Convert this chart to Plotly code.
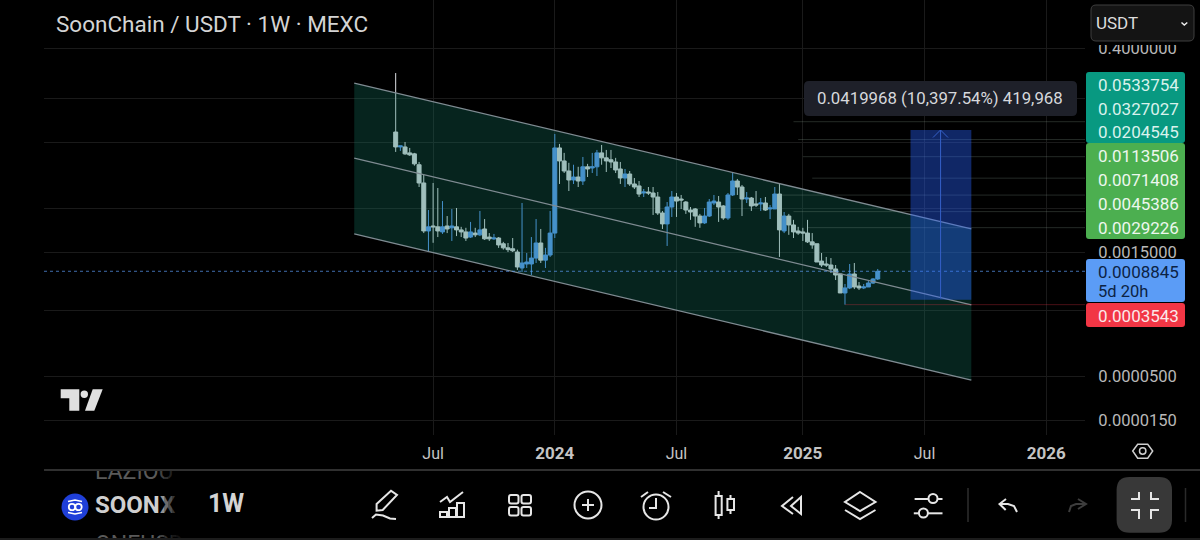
import math
import pandas as pd
import plotly.graph_objects as go

W, H = 1200, 540

# Weekly SOONX/USDT candles
first_week = "2023-05-08"
opens = [.0402,.0267,.0267,.0227,.0221,.0164,.00995,.00267,.00306,.00299,.00260,.00306,.00291,.00299,.00275,.00260,
         .00226,.00252,.00240,.00282,.00226,.00215,.00220,.00188,.00168,.00164,.00150,.000968,.00108,.00108,.00127,.00192,
         .00120,.00138,.00252,.0260,.0182,.01382,.01080,.01172,.01050,.0155,.01500,.0155,.0227,.0198,.0188,.0177,
         .01460,.01140,.01272,.00968,.00917,.00756,.00777,.00756,.00677,.00437,.00324,.00515,.00677,.00641,.00590,.00474,
         .00488,.00402,.00333,.00402,.00575,.00590,.00530,.00381,.00716,.01050,.00891,.00641,.00659,.00560,.00560,.00575,
         .00488,.00488,.00735,.00267,.00402,.00315,.00267,.00260,.00252,.00198,.00188,.00117,.00108,.00105,.000942,.000821,
         .000488,.000560,.000821,.000590,.000560,.000575,.000641,.000716]
highs = [.2025,.0275,.0306,.0260,.0227,.0177,.01238,.00474,.00995,.00867,.00606,.00402,.00488,.00501,.00299,.00291,
         .00342,.00291,.00462,.00370,.00252,.00246,.00226,.00198,.00192,.00220,.00160,.00575,.00146,.00226,.00370,.00282,
         .00168,.00462,.0381,.0290,.0227,.0173,.0164,.0155,.0203,.0168,.0227,.0246,.0282,.0246,.0246,.0198,
         .0177,.01460,.01382,.01140,.01050,.00843,.00891,.00891,.00777,.00462,.00590,.00798,.00756,.00716,.00606,.00515,
         .00501,.00426,.00501,.00641,.00716,.00696,.00543,.00756,.01308,.01110,.00942,.00777,.00677,.00798,.00659,.00677,
         .00543,.00891,.00968,.00449,.00426,.00362,.00299,.00291,.00362,.00252,.00188,.00146,.00131,.00127,.00105,.000821,
         .000624,.00108,.00111,.000659,.000624,.000677,.000735,.000942]
lows = [.0233,.0240,.0215,.0209,.0160,.00891,.00252,.00150,.00193,.00226,.00246,.00252,.00203,.00232,.00226,.00203,
        .00220,.00226,.00232,.00209,.00203,.00209,.00168,.00160,.00150,.00150,.000917,.000867,.000968,.000798,.00111,.00111,
        .000968,.00131,.00220,.00968,.01308,.00798,.00968,.00891,.00942,.01172,.01308,.01205,.0164,.01344,.01500,.01308,
        .00968,.00891,.00917,.00843,.00677,.00677,.00716,.00414,.00414,.00282,.00177,.00392,.00392,.00488,.00426,.00362,
        .00299,.00291,.00324,.00392,.00543,.00342,.00362,.00362,.00696,.00716,.00402,.00575,.00462,.00515,.00462,.00462,
        .00370,.00488,.00131,.00252,.00240,.00220,.00240,.00203,.00192,.00164,.00114,.000995,.000995,.000843,.000696,.000488,
        .0003543,.000543,.000543,.000530,.000543,.000575,.000624,.000696]
closes = [.0267,.0275,.0221,.0215,.0168,.00995,.00267,.00299,.00299,.00267,.00299,.00282,.00306,.00275,.00260,.00220,
          .00260,.00240,.00275,.00215,.00215,.00220,.00182,.00168,.00160,.00155,.000995,.00111,.00114,.00127,.00192,.00120,
          .00138,.00252,.0260,.0182,.01382,.01080,.01172,.01050,.0155,.01460,.0155,.0227,.0198,.0182,.0177,.01421,
          .01140,.01272,.00968,.00891,.00735,.00777,.00756,.00677,.00437,.00324,.00515,.00677,.00606,.00624,.00474,.00449,
          .00402,.00333,.00402,.00590,.00606,.00515,.00381,.00716,.01050,.00891,.00641,.00659,.00530,.00543,.00575,.00474,
          .00501,.00735,.00275,.00402,.00315,.00260,.00252,.00252,.00198,.00182,.00114,.00105,.00105,.000942,.000798,.000488,
          .000560,.000821,.000575,.000560,.000575,.000641,.000716,.0008845]

last_price = 0.0008845
price_low = 0.0003543

# Descending channel drawn over the history
channel_dates = ["2023-03-07", "2025-09-15"]
channel_upper = [0.154, 0.00282]
channel_middle = [0.0197, 0.000351]
channel_lower = [0.00246, 0.0000449]

# Long position projection
target_start, target_end, target_mid = "2025-06-16", "2025-09-15", "2025-07-31"
target_base = 0.000403919
target_gain = 0.0419968
target_label = "0.0419968 (10,397.54%) 419,968"

# Horizontal levels, each with the week its ray begins
level_values = [0.0533754, 0.0327027, 0.0204545, 0.0113506, 0.0071408, 0.0045386, 0.0029226]
level_starts = ["2024-12-23", "2024-12-30", "2025-01-06", "2025-01-20", "2024-12-02", "2024-12-23", "2025-01-13"]
low_ray_start = "2025-03-10"
countdown = "5d 20h"

# Axis ticks; the blank ones sit behind the scale tags and only keep their gridline
price_ticks = [1.5, 0.4, 0.1, 0.03, 0.005, 0.0015, 0.0003, 0.00005, 0.000015]
price_tick_text = ["", "0.4000000", "", "", "", "0.0015000", "", "0.0000500", "0.0000150"]
time_ticks = ["2023-07-03", "2024-01-01", "2024-07-01", "2025-01-06", "2025-07-07", "2026-01-05"]
time_tick_text = ["Jul", "<b><span style='font-size:17px'>2024</span></b>", "Jul",
                  "<b><span style='font-size:17px'>2025</span></b>", "Jul",
                  "<b><span style='font-size:17px'>2026</span></b>"]

UP = "#5b9cf6"
DOWN = "#dcdee2"
FONT = "Roboto"
X_RANGE = ["2021-11-28", "2026-03-04"]
Y_RANGE = [-5.0024, 0.176]

weeks = pd.date_range(first_week, periods=len(opens), freq="7D")


def fx(v):
    return v / W


def fy(v):
    return 1 - v / H


shapes = []
annotations = []


def poly(points, closed=False):
    body = " L".join(f"{fx(a):.5f} {fy(b):.5f}" for a, b in points)
    return "M" + body + (" Z" if closed else "")


def stroke(points, color="#e6e6e6", width=2, closed=False, fill=None):
    shapes.append(dict(type="path", xref="paper", yref="paper", layer="above",
                       path=poly(points, closed),
                       line=dict(color=color, width=width),
                       fillcolor=fill or "rgba(0,0,0,0)"))


def solid(points, color):
    shapes.append(dict(type="path", xref="paper", yref="paper", layer="above",
                       path=poly(points, True), line=dict(width=0), fillcolor=color))


def round_rect(x0, y0, x1, y1, r, fill=None, line=None, width=0):
    p = (f"M{fx(x0+r):.5f} {fy(y0):.5f} L{fx(x1-r):.5f} {fy(y0):.5f} Q{fx(x1):.5f} {fy(y0):.5f} {fx(x1):.5f} {fy(y0+r):.5f} "
         f"L{fx(x1):.5f} {fy(y1-r):.5f} Q{fx(x1):.5f} {fy(y1):.5f} {fx(x1-r):.5f} {fy(y1):.5f} "
         f"L{fx(x0+r):.5f} {fy(y1):.5f} Q{fx(x0):.5f} {fy(y1):.5f} {fx(x0):.5f} {fy(y1-r):.5f} "
         f"L{fx(x0):.5f} {fy(y0+r):.5f} Q{fx(x0):.5f} {fy(y0):.5f} {fx(x0+r):.5f} {fy(y0):.5f} Z")
    shapes.append(dict(type="path", xref="paper", yref="paper", layer="above", path=p,
                       fillcolor=fill or "rgba(0,0,0,0)",
                       line=dict(color=line or "rgba(0,0,0,0)", width=width)))


def circle(cx, cy, r, color="#e6e6e6", width=2, fill=None):
    shapes.append(dict(type="circle", xref="paper", yref="paper", layer="above",
                       x0=fx(cx - r), x1=fx(cx + r), y0=fy(cy + r), y1=fy(cy - r),
                       line=dict(color=color, width=width),
                       fillcolor=fill or "rgba(0,0,0,0)"))


def label(x, y, text, size, color, anchor="left"):
    annotations.append(dict(xref="paper", yref="paper", x=fx(x), y=fy(y), text=text, showarrow=False,
                            xanchor=anchor, yanchor="middle", align=anchor,
                            font=dict(family=FONT, size=size, color=color)))


fig = go.Figure()

# Channel band and its three rails
fig.add_trace(go.Scatter(
    x=channel_dates + channel_dates[::-1], y=channel_upper + channel_lower[::-1],
    mode="lines", fill="toself", fillcolor="rgba(20,120,100,0.3)", line=dict(width=0)))
for rail in (channel_upper, channel_middle, channel_lower):
    fig.add_trace(go.Scatter(x=channel_dates, y=rail, mode="lines",
                             line=dict(color="#7f8b92", width=1.3)))

# Level rays run out to the price scale
for value, start in zip(level_values, level_starts):
    fig.add_trace(go.Scatter(x=[start, X_RANGE[1]], y=[value, value], mode="lines",
                             line=dict(color="rgba(150,175,160,0.24)", width=1)))
fig.add_trace(go.Scatter(x=[low_ray_start, X_RANGE[1]], y=[price_low, price_low], mode="lines",
                         line=dict(color="rgba(242,54,69,0.3)", width=1)))

# Last price marker
fig.add_trace(go.Scatter(x=X_RANGE, y=[last_price, last_price], mode="lines",
                         line=dict(color="rgba(91,156,246,0.7)", width=1, dash="dot")))

# Projection block
target_top = target_base + target_gain
fig.add_trace(go.Scatter(
    x=[target_start, target_end, target_end, target_start, target_start],
    y=[target_base, target_base, target_top, target_top, target_base],
    mode="lines", fill="toself", fillcolor="rgba(41,98,255,0.4)", line=dict(width=0)))
annotations.append(dict(x=target_mid, y=math.log10(target_top), ax=target_mid, ay=math.log10(target_base),
                        xref="x", yref="y", axref="x", ayref="y", text="", showarrow=True,
                        arrowhead=0, arrowwidth=1, arrowcolor="#3560c8"))
stroke([(933, 137.5), (940.5, 130), (948, 137.5)], "#3560c8", 1)

fig.add_trace(go.Candlestick(
    x=weeks, open=opens, high=highs, low=lows, close=closes,
    increasing=dict(line=dict(color=UP, width=1), fillcolor=UP),
    decreasing=dict(line=dict(color=DOWN, width=1), fillcolor=DOWN),
    whiskerwidth=0, hoverinfo="skip"))

# Watchlist strip, clipped to its own little pane
fig.add_trace(go.Scatter(x=[95, 95, 95], y=[473, 507, 546], mode="text",
                         text=["LAZIOU", "<b>SOONX</b>", "ONEUSDT"], textposition="middle right",
                         textfont=dict(family=FONT, size=[23, 24, 23], color=["#5a5a5a", "#cfcfcf", "#5a5a5a"]),
                         xaxis="x2", yaxis="y2", cliponaxis=True))

# Scale tags
round_rect(1086, 72, 1185, 143, 3, fill="#089981")
round_rect(1086, 143, 1185, 239, 3, fill="#4caf50")
round_rect(1086, 259, 1185, 302, 3, fill=UP)
round_rect(1086, 303, 1185, 327, 3, fill="#f23645")
tag_rows = [85, 108.5, 132, 156, 180, 204, 228]
for i, (row, value) in enumerate(zip(tag_rows, level_values)):
    label(1095.5, row, f"{value:.7f}", 17, "#d9f2ec" if i < 3 else "#edf7ee")
label(1095.5, 271.5, f"{last_price:.7f}", 17, "#0c2344")
label(1095.5, 291, countdown, 16.5, "#0c2344")
label(1095.5, 315.5, f"{price_low:.7f}", 17, "#fbe9ea")

# Projection caption
round_rect(804, 81, 1077, 116, 5, fill="#1e2029")
label(940.5, 98.5, target_label, 16.8, "#d6d8dc", "center")

# Header
label(54, 24, "SoonChain / USDT · 1W · MEXC", 22.5, "#d4d4d4")
solid([(1086, 0), (1200, 0), (1200, 45), (1086, 45)], "#000000")
round_rect(1091, 5, 1194, 41, 5, fill="#141414", line="#3e3e3e", width=1)
label(1094, 23, "USDT", 17, "#dddddd")
stroke([(1181.5, 22.5), (1184.3, 25), (1187.3, 22.5)], "#eeeeee", 1.5)

# TradingView mark
solid([(60.7, 389.3), (79.3, 389.3), (79.3, 410.7), (69.3, 410.7), (69.3, 398.3), (60.7, 398.3)], "#e0e0e0")
circle(84.3, 394.3, 3.7, "#e0e0e0", 0, "#e0e0e0")
solid([(92.7, 389.3), (102.7, 389.3), (94.3, 410.7), (85, 410.7)], "#e0e0e0")

# Chart settings hexagon
stroke([(1132.7, 451), (1137.7, 444.3), (1147.7, 444.3), (1152.7, 451), (1147.7, 458.3), (1137.7, 458.3)],
       "#cfcfcf", 1.5, closed=True)
circle(1142.7, 451, 3.2, "#cfcfcf", 1.5)

# Toolbar rules
stroke([(44, 470), (1200, 470)], "#303030", 2)
stroke([(0, 539), (1200, 539)], "#262626", 1.5)

# Symbol coin
circle(75, 507, 13.5, "#1f3fd8", 0, "#1f3fd8")
circle(72, 507, 3.2, "#ffffff", 1.8)
circle(78.5, 507, 3.2, "#ffffff", 1.8)
stroke([(68, 501.5), (75, 500), (82, 501.5)], "#ffffff", 1.5)
stroke([(68, 512.5), (75, 514), (82, 512.5)], "#ffffff", 1.5)

# Soft right edge of the symbol column
for step in range(6):
    solid([(160 + step * 4, 471), (183, 471), (183, 538), (160 + step * 4, 538)], "rgba(0,0,0,0.28)")

label(206, 503, "<b>1W</b>", 25, "#d4d4d4")

# Pencil
stroke([(376.6, 504), (391, 490.7), (397, 495), (382.7, 510), (376.6, 510.7)], closed=True)
stroke([(372, 518), (376, 514.5), (383, 515.5), (390, 518.5), (396, 519)])
# Indicators
stroke([(440, 502), (447, 497), (450, 502), (463, 492)])
for x0, x1, y0 in [(440, 447, 512), (449, 456, 508), (457, 464, 503)]:
    stroke([(x0, y0), (x1, y0), (x1, 517), (x0, 517)], closed=True)
# Layout grid
for x0, y0 in [(509, 495), (521.5, 495), (509, 507), (521.5, 507)]:
    round_rect(x0, y0, x0 + 9.5, y0 + 8.5, 2, line="#e6e6e6", width=2)
# Add
circle(588, 505, 13.5)
stroke([(582, 505), (594, 505)])
stroke([(588, 499), (588, 511)])
# Alarm
circle(656, 507, 12.5)
stroke([(656, 498), (656, 508), (649, 508)])
stroke([(641, 497), (648, 492)])
stroke([(663, 492), (671, 497)])
# Candle type
stroke([(715.6, 496), (721.7, 496), (721.7, 515), (715.6, 515)], closed=True)
stroke([(718.6, 491), (718.6, 496)])
stroke([(718.6, 515), (718.6, 519)])
stroke([(727.4, 499), (734, 499), (734, 510), (727.4, 510)], closed=True)
stroke([(730.5, 495), (730.5, 499)])
stroke([(730.5, 510), (730.5, 514)])
# Replay
stroke([(801, 497), (801, 514), (791, 506)], closed=True)
stroke([(793, 497), (782, 506), (793, 514)])
# Layers
stroke([(860, 492), (875.5, 502), (860, 511), (845, 502)], closed=True)
stroke([(845, 510), (860, 519), (875.5, 510)])
# Sliders
stroke([(914.6, 499), (928.3, 499)])
circle(933, 498.5, 4.5)
stroke([(937.5, 499), (942.5, 499)])
stroke([(913.8, 513.3), (918.4, 513.3)])
circle(923.4, 513, 4.5)
stroke([(928, 513.3), (942.5, 513.3)])
stroke([(968, 488), (968, 522)], "#2e2e2e", 1.5)
# Undo and redo
stroke([(1006, 499), (999.5, 504), (1005.7, 510)])
stroke([(999.5, 504), (1008, 504), (1014, 506), (1017, 512)])
stroke([(1078, 499), (1086, 504), (1078, 509)], "#3d3d3d")
stroke([(1086, 504), (1076, 504), (1071, 506), (1069, 512)], "#3d3d3d")
# Fullscreen toggle
round_rect(1116.6, 477, 1172, 532.7, 13, fill="#383838")
stroke([(1139, 492), (1139, 499), (1131, 499)])
stroke([(1151, 492), (1151, 499), (1159, 499)])
stroke([(1131, 510), (1139, 510), (1139, 519)])
stroke([(1159, 510), (1151, 510), (1151, 519)])
stroke([(1185.5, 488), (1185.5, 522)], "#2a2a2a", 1.5)

fig.update_layout(
    width=W, height=H,
    margin=dict(l=0, r=0, t=0, b=0),
    paper_bgcolor="#000000", plot_bgcolor="#000000",
    showlegend=False, hovermode=False,
    boxmode="overlay", boxgap=0.15, boxgroupgap=0,
    shapes=shapes, annotations=annotations,
    xaxis=dict(
        type="date", domain=[44 / W, 1085 / W], range=X_RANGE, anchor="y",
        rangeslider=dict(visible=False),
        tickmode="array", tickvals=time_ticks, ticktext=time_tick_text,
        tickfont=dict(family=FONT, size=16, color="#c4c4c4"),
        ticks="outside", ticklen=4, tickcolor="rgba(0,0,0,0)",
        showgrid=True, gridcolor="#1a1a1a", gridwidth=1, zeroline=False, showline=False),
    yaxis=dict(
        type="log", domain=[1 - 435 / H, 1], range=Y_RANGE, anchor="x", side="right",
        tickmode="array", tickvals=price_ticks, ticktext=price_tick_text,
        tickfont=dict(family=FONT, size=16.5, color="#b8b8b8"),
        ticks="outside", ticklen=9, tickcolor="rgba(0,0,0,0)",
        showgrid=True, gridcolor="#1a1a1a", gridwidth=1, zeroline=False, showline=False),
    xaxis2=dict(domain=[94 / W, 183 / W], range=[94, 183], anchor="y2", visible=False, fixedrange=True),
    yaxis2=dict(domain=[1 - 538 / H, 1 - 471 / H], range=[538, 471], anchor="x2", visible=False, fixedrange=True),
)

fig.write_html("out.html", config=dict(displayModeBar=False))
